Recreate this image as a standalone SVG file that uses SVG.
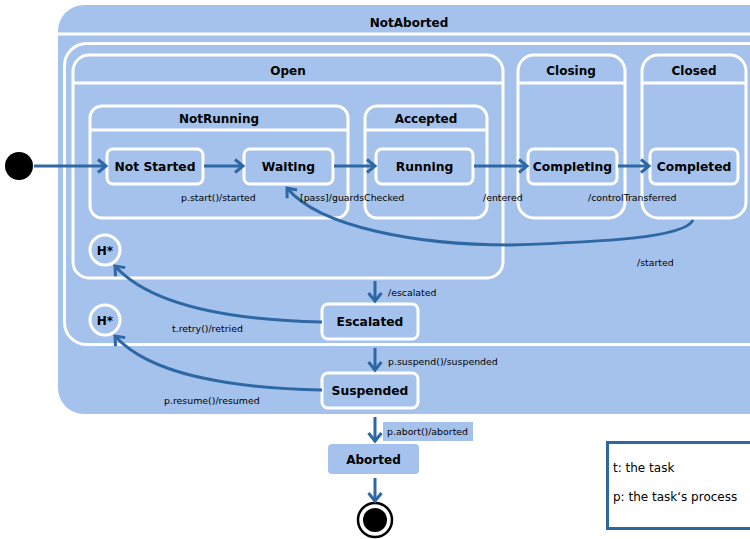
<svg xmlns="http://www.w3.org/2000/svg" width="750" height="539" viewBox="0 0 750 539">
<defs>
<style>
.st{fill:#a5c2ed;stroke:#fff;stroke-width:3}
.ln{stroke:#fff;stroke-width:3}
.t{font-family:"DejaVu Sans",Verdana,sans-serif;font-weight:bold;font-size:12px;fill:#000;text-anchor:middle}
.tb{font-family:"DejaVu Sans",Verdana,sans-serif;font-weight:bold;font-size:12.3px;fill:#000;text-anchor:middle}
.l{font-family:"DejaVu Sans",Verdana,sans-serif;font-size:9.4px;fill:#000}
.lg{font-family:"DejaVu Sans",Verdana,sans-serif;font-size:12px;fill:#000}
.a{fill:none;stroke:#2e68a4;stroke-width:3;marker-end:url(#ah)}
</style>
<marker id="ah" markerUnits="userSpaceOnUse" markerWidth="14" markerHeight="18" refX="10" refY="8" orient="auto">
<path d="M2,1.5 L10,8 L2,14.5" fill="none" stroke="#2e68a4" stroke-width="3"/>
</marker>
</defs>
<rect width="750" height="539" fill="#fff"/>
<g id="NotAborted">
<rect x="58" y="5" width="720" height="409" rx="26" fill="#a5c2ed"/>
<line x1="58" y1="34" x2="750" y2="34" class="ln"/>
<text x="409" y="27" class="t">NotAborted</text>
</g>
<g id="Container">
<rect x="64.5" y="43.5" width="720" height="301" rx="22" fill="none" stroke="#fff" stroke-width="3"/>
</g>
<g id="Open">
<rect x="73" y="55" width="430" height="223" rx="16" class="st"/>
<line x1="73" y1="83" x2="503" y2="83" class="ln"/>
<text x="288" y="75" class="t">Open</text>
</g>
<g id="Closing">
<rect x="518" y="55" width="107" height="163" rx="16" class="st"/>
<line x1="518" y1="83" x2="625" y2="83" class="ln"/>
<text x="571" y="75" class="t">Closing</text>
</g>
<g id="Closed">
<rect x="642" y="55" width="104" height="163" rx="16" class="st"/>
<line x1="642" y1="83" x2="746" y2="83" class="ln"/>
<text x="694" y="75" class="t">Closed</text>
</g>
<g id="NotRunning">
<rect x="90" y="106" width="258" height="112" rx="12" class="st"/>
<line x1="90" y1="130" x2="348" y2="130" class="ln"/>
<text x="219" y="123" class="t">NotRunning</text>
</g>
<g id="Accepted">
<rect x="365" y="106" width="122" height="112" rx="12" class="st"/>
<line x1="365" y1="130" x2="487" y2="130" class="ln"/>
<text x="426" y="123" class="t">Accepted</text>
</g>
<g id="NotStarted">
<rect x="107" y="149" width="96" height="35" rx="6" class="st"/>
<text x="155" y="171" class="tb">Not Started</text>
</g>
<g id="Waiting">
<rect x="244" y="149" width="89" height="35" rx="6" class="st"/>
<text x="288.5" y="171" class="tb">Waiting</text>
</g>
<g id="Running">
<rect x="376" y="149" width="97" height="35" rx="6" class="st"/>
<text x="424.5" y="171" class="tb">Running</text>
</g>
<g id="Completing">
<rect x="528" y="149" width="89" height="35" rx="6" class="st"/>
<text x="572.5" y="171" class="tb">Completing</text>
</g>
<g id="Completed">
<rect x="650" y="149" width="88" height="35" rx="6" class="st"/>
<text x="694" y="171" class="tb">Completed</text>
</g>
<g id="History1">
<circle cx="105" cy="250" r="15" class="st"/>
<text x="105" y="255" class="t">H*</text>
</g>
<g id="History2">
<circle cx="105" cy="320" r="15" class="st"/>
<text x="105" y="325" class="t">H*</text>
</g>
<g id="Escalated">
<rect x="322" y="304" width="96" height="35" rx="6" class="st"/>
<text x="370" y="326" class="tb">Escalated</text>
</g>
<g id="Suspended">
<rect x="322" y="373" width="96" height="35" rx="6" class="st"/>
<text x="370" y="395" class="tb">Suspended</text>
</g>
<g id="Aborted">
<rect x="328" y="444" width="91" height="30" rx="4" fill="#a5c2ed"/>
<text x="373.5" y="464" class="t">Aborted</text>
</g>
<g id="Initial">
<circle cx="19" cy="166" r="14" fill="#000"/>
</g>
<g id="Final">
<circle cx="375" cy="520" r="17" fill="#fff" stroke="#000" stroke-width="2.5"/>
<circle cx="375" cy="520" r="12" fill="#000"/>
</g>
<g id="connectors">
<path class="a" d="M34,166 L106,166"/>
<path class="a" d="M204,166 L243,166"/>
<path class="a" d="M334,166 L375,166"/>
<path class="a" d="M474,166 L527,166"/>
<path class="a" d="M618,166 L649,166"/>
<path class="a" d="M693,220 C685,238 600,242 510,245 C420,245 320,228 287,188"/>
<path class="a" d="M375,281 L375,301"/>
<path class="a" d="M322,322 C230,320 150,305 115,266"/>
<path class="a" d="M375,348 L375,370"/>
<path class="a" d="M322,390 C230,388 150,375 115,336"/>
<path class="a" d="M375,417 L375,441"/>
<path class="a" d="M375,478 L375,501"/>
</g>
<g id="labels">
<text x="181" y="201" class="l">p.start()/started</text>
<text x="300" y="201" class="l">[pass]/guardsChecked</text>
<text x="483" y="201" class="l">/entered</text>
<text x="588" y="201" class="l">/controlTransferred</text>
<text x="637" y="266" class="l">/started</text>
<text x="388" y="296" class="l">/escalated</text>
<text x="172" y="332" class="l">t.retry()/retried</text>
<text x="388" y="365" class="l">p.suspend()/suspended</text>
<text x="164" y="404" class="l">p.resume()/resumed</text>
<rect x="383" y="422" width="90" height="19" fill="#a5c2ed"/>
<text x="387" y="435" class="l">p.abort()/aborted</text>
</g>
<g id="Legend">
<rect x="607.5" y="442.5" width="160" height="86" fill="#fff" stroke="#2e68a4" stroke-width="3"/>
<text x="613" y="472" class="lg">t: the task</text>
<text x="613" y="501" class="lg">p: the task‘s process</text>
</g>
</svg>
